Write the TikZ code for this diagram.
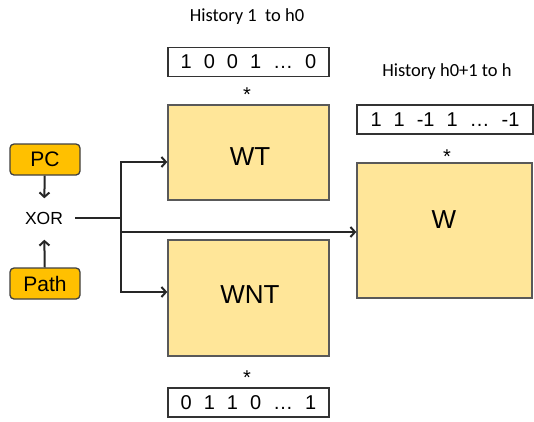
\documentclass[tikz,border=0pt]{standalone}
\usepackage{fontspec}
\setmainfont{Liberation Sans}
\newfontfamily\histfont{Carlito}
\usetikzlibrary{arrows.meta,positioning,calc}
\definecolor{tblfill}{HTML}{FFE699}
\definecolor{selfill}{HTML}{FFC000}
\newcommand{\gap}{\hspace{0.6em}}

\begin{document}
\begin{tikzpicture}[x=1pt,y=-1pt,
  tbl/.style={draw=black!65,fill=tblfill,line width=1.4pt,minimum width=161pt,
              inner sep=0pt},
  tbltxt/.style={font=\fontsize{26}{30}\selectfont,inner sep=0pt},
  vec/.style={draw=black!80,line width=1.3pt,minimum height=29pt,inner sep=0pt,
              font=\fontsize{20}{24}\selectfont},
  sel/.style={draw=black!75,fill=selfill,rounded corners=4pt,line width=1.3pt,
              minimum width=70pt,minimum height=31pt,inner sep=0pt,
              font=\fontsize{21}{24}\selectfont},
  hist/.style={font=\histfont\fontsize{18.5}{22}\selectfont},
  star/.style={font=\fontsize{20}{20}\selectfont},
  ar/.style={-{Straight Barb[length=4.5pt,width=10pt]},line width=2pt,black!85}]
\useasboundingbox (0,0) rectangle (534,421);
% first table with its history
\node[hist] (h1) at (247,17) {History 1\ \ to h0};
\node[vec,minimum width=161pt] (v1) at (248.5,62) {1\gap0\gap0\gap1\gap\dots\gap0};
\node[star] (s1) at (247,95) {*};
\node[tbl,minimum height=95pt] (wt) at (248.5,152.5) {};
\node[tbltxt] (wtlbl) at (250,157) {WT};
% second table
\node[tbl,minimum height=116pt] (wnt) at (248.5,298) {};
\node[tbltxt] (wntlbl) at (250,295) {WNT};
\node[star] (s2) at (247,378) {*};
\node[vec,minimum width=161pt] (v2) at (248.5,402.5) {0\gap1\gap1\gap0\gap\dots\gap1};
% long history table
\node[hist] (h2) at (447,72) {History h0+1 to h};
\node[vec,minimum width=176pt] (v3) at (445,119.5) {1\gap1\gap-1\gap1\gap\dots\gap-1};
\node[star] (s3) at (447,157) {*};
\node[tbl,minimum width=175pt,minimum height=135pt] (w) at (444.5,230.5) {};
\node[tbltxt] (wlbl) at (444,220) {W};
% index
\node[sel] (pc) at (45,159.5) {PC};
\node[sel] (path) at (45,283.5) {Path};
\node[font=\fontsize{17.5}{20}\selectfont] (xor) at (44,218) {XOR};
\coordinate (split) at (121,218);
\coordinate (tap) at (121,232);
\draw[ar,shorten >=10pt] (pc) -- (xor);
\draw[ar,shorten >=12pt] (path) -- (xor);
\draw[line width=2pt,black!85] ([xshift=9pt]xor.east) -- (xor.east -| split);
\draw[ar] (split) |- ([yshift=-9.5pt]wt.west);
\draw[ar] (split) |- ([yshift=6pt]wnt.west);
\draw[ar] (tap) -- (tap -| w.west);
\end{tikzpicture}
\end{document}
